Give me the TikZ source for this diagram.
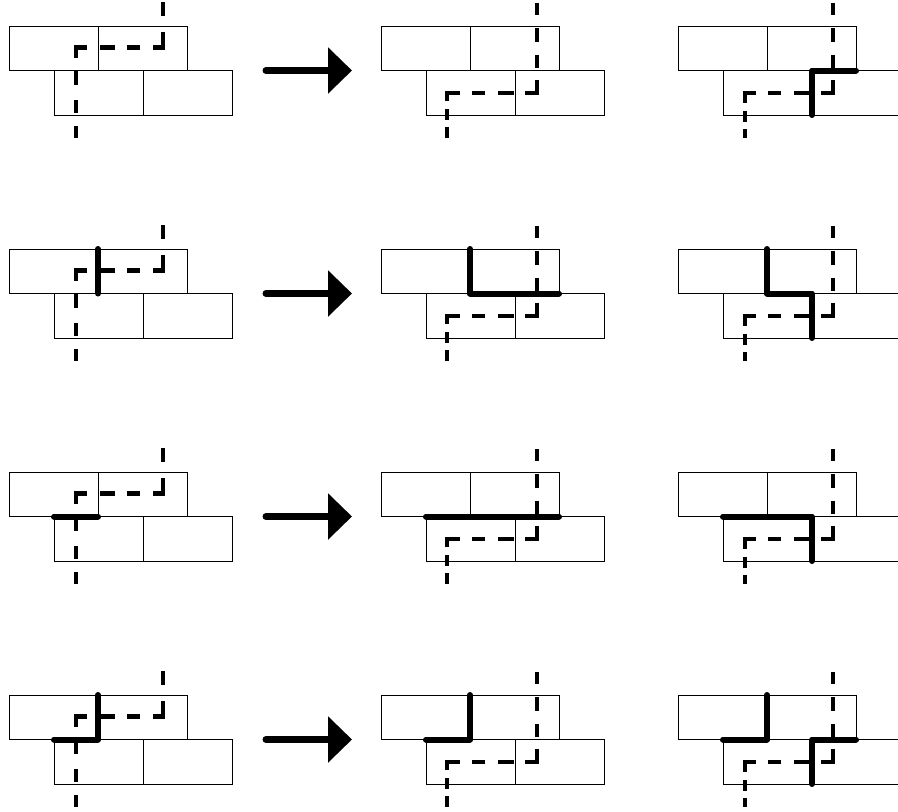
\documentclass[tikz,border=0pt]{standalone}
\usetikzlibrary{arrows.meta}

\tikzset{
  brick/.style={draw=black,line width=0.8pt},
  crackup/.style={line width=4.5pt,
    dash pattern=on 14pt off 16pt on 25.5pt off 13pt on 13pt off 12pt on 15pt off 13pt on 21pt off 13pt on 14pt off 15pt on 13pt off 13pt on 13pt},
  crackdown/.style={line width=4.5pt,
    dash pattern=on 12pt off 13pt on 14pt off 13pt on 13pt off 12pt on 25pt off 11pt on 16pt off 13pt on 13pt off 12pt on 21pt off 8pt on 11pt off 7pt on 12pt},
  seam/.style={line width=6pt,line cap=round,line join=round},
  bigarrow/.style={line width=7pt,line cap=round,-{Triangle[length=24pt,width=45pt]}}
}

% one wall: four bricks, local origin at the top left corner
\newcommand{\wall}[2]{%
  \begin{scope}[shift={(#1,#2)}]
    \draw[brick] (0,0) rectangle (89,44.5) (89,0) rectangle (178,44.5)
      (45,44.5) rectangle (134,89) (134,44.5) rectangle (223,89);
  \end{scope}}

\begin{document}
\begin{tikzpicture}[x=1pt,y=-1pt]
  \clip (0,0) rectangle (898,812);
  \fill[white] (0,0) rectangle (898,812);

  \foreach \y in {26,249,472,695} {
    \wall{9}{\y}
    \wall{381}{\y}
    \wall{678}{\y}
    \draw[crackup] (163,\y-24) -- (163,\y+21.5) -- (76,\y+21.5) -- (76,\y+112);
    \draw[crackdown] (537,\y-23) -- (537,\y+67) -- (447,\y+67) -- (447,\y+112);
    \draw[crackdown] (833,\y-23) -- (833,\y+67) -- (745,\y+67) -- (745,\y+112);
    \coordinate (from) at (266,\y+44.5);
    \coordinate (to) at (352,\y+44.5);
    \draw[bigarrow] (from) -- (to);
  }

  % row 1
  \begin{scope}[shift={(678,26)}]
    \draw[seam] (134,89) -- (134,44.5) -- (178,44.5);
  \end{scope}

  % row 2
  \begin{scope}[shift={(9,249)}]
    \draw[seam] (89,0) -- (89,44.5);
  \end{scope}
  \begin{scope}[shift={(381,249)}]
    \draw[seam] (89,0) -- (89,44.5) -- (178,44.5);
  \end{scope}
  \begin{scope}[shift={(678,249)}]
    \draw[seam] (89,0) -- (89,44.5) -- (134,44.5) -- (134,89);
  \end{scope}

  % row 3
  \begin{scope}[shift={(9,472)}]
    \draw[seam] (45,44.5) -- (89,44.5);
  \end{scope}
  \begin{scope}[shift={(381,472)}]
    \draw[seam] (45,44.5) -- (178,44.5);
  \end{scope}
  \begin{scope}[shift={(678,472)}]
    \draw[seam] (45,44.5) -- (134,44.5) -- (134,89);
  \end{scope}

  % row 4
  \begin{scope}[shift={(9,695)}]
    \draw[seam] (45,44.5) -- (89,44.5) -- (89,0);
  \end{scope}
  \begin{scope}[shift={(381,695)}]
    \draw[seam] (45,44.5) -- (89,44.5) -- (89,0);
  \end{scope}
  \begin{scope}[shift={(678,695)}]
    \draw[seam] (45,44.5) -- (89,44.5) -- (89,0);
    \draw[seam] (134,89) -- (134,44.5) -- (178,44.5);
  \end{scope}
\end{tikzpicture}
\end{document}
